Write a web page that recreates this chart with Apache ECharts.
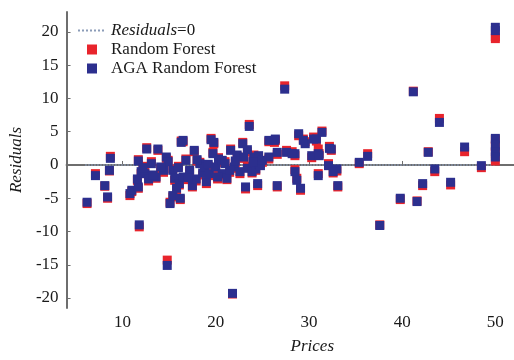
<!DOCTYPE html>
<html>
<head>
<meta charset="utf-8">
<script src="https://cdn.jsdelivr.net/npm/echarts@6/dist/echarts.min.js"></script>
<style>
  html, body { margin: 0; padding: 0; background: #fff; }
  #chart { width: 514px; height: 360px; }
</style>
</head>
<body>
<div id="chart"></div>
<script>
// prices (x) and residuals of both models
const prices = [
  6.2, 7.1, 8.1, 8.4, 8.6, 8.7, 10.8, 11.0, 11.7, 11.7,
  11.8, 12.0, 12.4, 12.6, 12.8, 13.1, 13.6, 13.8, 14.4, 14.7,
  14.8, 14.9, 15.1, 15.4, 15.4, 15.6, 16.1, 16.2, 16.3, 16.5,
  16.5, 16.8, 17.2, 17.5, 17.7, 17.9, 18.3, 18.6, 18.8, 19.0,
  19.3, 19.5, 19.7, 19.8, 20.0, 20.3, 20.7, 20.7, 21.2, 21.6,
  21.8, 22.0, 22.3, 22.6, 22.9, 23.0, 23.2, 23.4, 23.6, 23.9,
  24.1, 24.3, 24.5, 24.6, 24.6, 24.8, 25.7, 25.7, 26.4, 26.6,
  26.6, 27.4, 27.6, 28.5, 28.5, 28.7, 28.9, 29.1, 29.6, 30.8,
  31.0, 31.0, 31.4, 32.1, 32.4, 33.0, 33.1, 35.4, 36.3, 37.6,
  39.8, 41.2, 41.6, 42.2, 42.8, 43.5, 44.0, 45.2, 46.7, 48.5,
  50.0, 50.0, 50.0, 50.0, 50.0, 50.0, 13.3, 14.1, 16.0, 17.0,
  18.0, 19.2, 20.2, 21.0, 21.5, 22.1, 23.4, 24.0, 25.0, 11.6,
  12.2, 15.8, 30.3, 31.1, 32.2, 32.6, 28.2, 29.4, 30.5, 26.3
];
const rfResiduals = [
  -5.8, -1.3, -3.2, -5.0, -0.9, 1.3, -4.6, -4.0, -3.5, 0.8,
  -9.3, -1.3, -1.1, 2.6, -2.4, 0.5, -2.0, 2.2, -1.1, 1.0,
  -14.3, 0.7, -5.6, -0.6, -4.8, -2.3, -3.0, -5.2, 3.6, 3.5,
  -2.1, 0.9, -1.0, -3.3, 2.0, -2.4, 0.4, -1.5, -0.1, -2.8,
  -1.6, 4.0, 1.9, 3.2, -0.6, 1.1, -1.5, 0.4, -2.2, 2.4,
  -19.4, -0.5, 1.3, -1.3, 3.4, 1.0, -3.6, -0.2, 6.1, -1.2,
  1.5, -0.8, -3.1, 0.0, 1.2, 0.2, 3.5, 0.9, 3.7, 1.6,
  -3.3, 11.9, 2.2, 1.4, -0.7, -2.0, 4.4, -3.8, 3.5, 3.6,
  2.4, -1.3, 5.1, 0.2, 2.2, -0.9, -3.3, 0.2, 1.7, -9.0,
  -5.2, 11.1, -5.4, -3.1, 2.0, -1.0, 7.0, -3.0, 2.0, -0.4,
  19.0, 3.8, 2.8, 1.8, 0.6, 19.3, -1.7, -0.6, -0.2, -2.2,
  0.6, -0.2, -2.1, 0.5, -1.1, 0.3, 2.0, 0.8, 0.4, -2.3,
  -0.2, -3.8, 1.1, 1.7, 2.8, -1.2, 2.0, 3.9, 4.2, 3.4
];
const agaResiduals = [
  -5.6, -1.6, -3.1, -4.8, -0.8, 1.0, -4.3, -3.8, -3.3, 0.6,
  -9.0, -1.0, -1.3, 2.4, -2.1, 0.2, -1.8, 2.4, -0.8, 1.2,
  -15.1, 0.5, -5.8, -0.8, -4.6, -2.0, -2.8, -5.0, 3.4, 3.7,
  -1.8, 0.7, -0.8, -3.1, 2.2, -2.1, 0.2, -1.2, -0.3, -2.5,
  -1.3, 3.8, 1.7, 3.4, -0.3, 0.9, -1.3, 0.7, -2.0, 2.2,
  -19.3, -0.3, 1.5, -1.0, 3.2, 1.2, -3.3, -0.5, 5.8, -1.0,
  1.2, -0.6, -2.8, 0.2, 1.4, -0.1, 3.7, 1.2, 3.9, 1.9,
  -3.1, 11.4, 1.9, 1.7, -1.0, -2.3, 4.7, -3.5, 3.2, 3.9,
  1.7, -1.6, 4.9, -0.1, 2.4, -0.6, -3.1, 0.4, 1.3, -9.1,
  -5.0, 11.0, -5.5, -2.8, 1.9, -0.6, 6.4, -2.6, 2.7, -0.1,
  20.7, 4.0, 3.0, 2.0, 1.2, 20.2, -1.5, -0.3, -0.4, -1.9,
  0.8, 0.1, -1.8, 0.2, -0.8, 0.6, 2.3, 0.5, 0.7, -2.1,
  -0.4, -3.5, 1.4, 1.4, 2.5, -1.0, 1.7, 3.7, 3.9, 3.7
];
const zeroLineX = [6, 50];
const zeroLineY = [0, 0];
const xTicks = [10, 20, 30, 40, 50];
const yTicks = [-20, -15, -10, -5, 0, 5, 10, 15, 20];

const font = 'Liberation Serif';
const squareIcon = 'path://M0,0H10V10H0Z';
const rfData = prices.map((p, i) => [p, rfResiduals[i]]);
const agaData = prices.map((p, i) => [p, agaResiduals[i]]);
const zeroData = zeroLineX.map((x, i) => [x, zeroLineY[i]]);

const axisCommon = {
  type: 'value',
  splitLine: { show: false },
  axisLine: { show: true, lineStyle: { color: '#6e6e6e', width: 2 } },
  axisTick: { show: true, inside: true, length: 4, lineStyle: { color: '#6e6e6e' } },
  axisLabel: { color: '#1a1a1a', fontFamily: font, fontSize: 17 },
  nameTextStyle: { color: '#1a1a1a', fontFamily: font, fontSize: 17, fontStyle: 'italic' }
};

const chart = echarts.init(document.getElementById('chart'));
chart.setOption({
  animation: false,
  backgroundColor: '#fff',
  grid: { left: 62, right: 0, top: 12, bottom: 51 },
  legend: {
    orient: 'vertical',
    left: 72,
    top: 17,
    itemWidth: 28,
    itemHeight: 10,
    itemGap: 2,
    textStyle: {
      color: '#1a1a1a', fontFamily: font, fontSize: 17,
      rich: { i: { fontFamily: font, fontSize: 17, fontStyle: 'italic', color: '#1a1a1a' } }
    },
    formatter: name => name === 'Residuals=0' ? '{i|Residuals}=0' : name,
    data: [
      { name: 'Residuals=0', itemStyle: { opacity: 0 } },
      { name: 'Random Forest', icon: squareIcon, itemStyle: { opacity: 1 } },
      { name: 'AGA Random Forest', icon: squareIcon, itemStyle: { opacity: 1 } }
    ]
  },
  xAxis: Object.assign({}, axisCommon, {
    min: 4,
    max: 52,
    axisTick: Object.assign({}, axisCommon.axisTick, { customValues: xTicks }),
    axisLabel: Object.assign({}, axisCommon.axisLabel, { customValues: xTicks, margin: 6 }),
    name: 'Prices',
    nameLocation: 'middle',
    nameGap: 30,
    nameTextStyle: Object.assign({}, axisCommon.nameTextStyle, { padding: [0, 0, 0, 44] })
  }),
  yAxis: Object.assign({}, axisCommon, {
    min: -21.5,
    max: 23,
    axisTick: Object.assign({}, axisCommon.axisTick, { customValues: yTicks }),
    axisLabel: Object.assign({}, axisCommon.axisLabel, { customValues: yTicks, margin: 8 }),
    name: 'Residuals',
    nameLocation: 'middle',
    nameGap: 38
  }),
  series: [
    {
      name: 'Residuals=0',
      type: 'line',
      data: zeroData,
      symbol: 'none',
      z: 1,
      lineStyle: { color: '#8b9cb8', width: 1.5, type: 'dotted' },
      itemStyle: { color: '#8b9cb8' }
    },
    {
      name: 'Random Forest',
      type: 'scatter',
      data: rfData,
      symbol: 'rect',
      symbolSize: 9,
      z: 2,
      itemStyle: { color: '#e8242c', opacity: 1 }
    },
    {
      name: 'AGA Random Forest',
      type: 'scatter',
      data: agaData,
      symbol: 'rect',
      symbolSize: 9,
      z: 3,
      itemStyle: { color: '#2c2f8e', opacity: 1 }
    }
  ]
});
</script>
</body>
</html>
